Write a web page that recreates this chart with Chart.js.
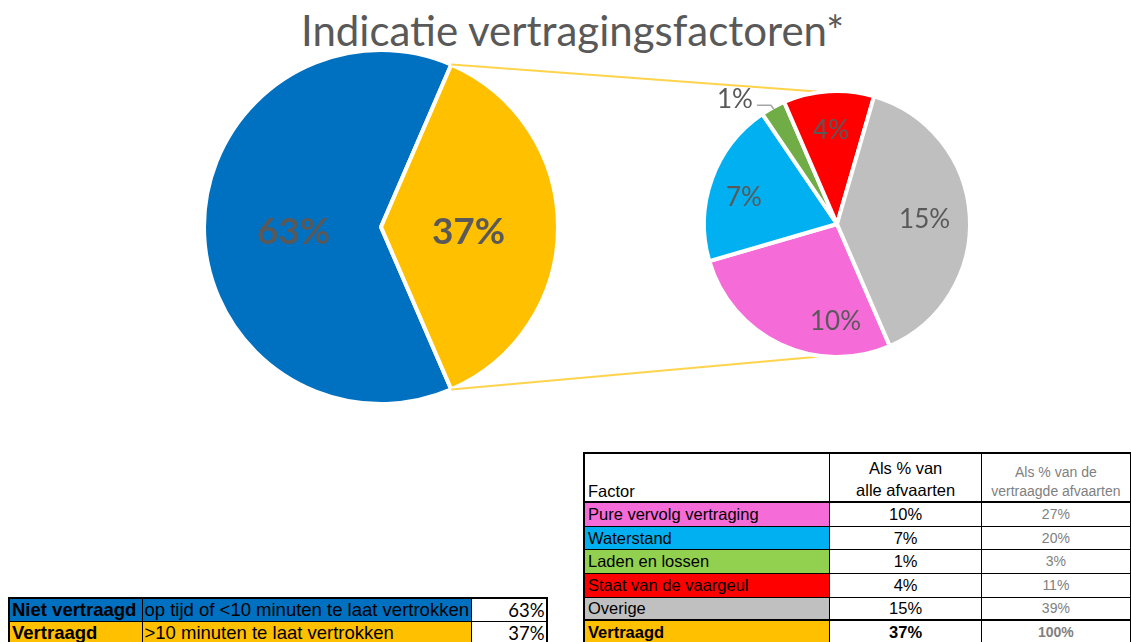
<!DOCTYPE html>
<html><head><meta charset="utf-8">
<script src="https://cdn.jsdelivr.net/npm/chart.js@4.4.0/dist/chart.umd.min.js"></script>
<style>
html,body{margin:0;padding:0;background:#fff;}
body{width:1131px;height:642px;overflow:hidden;position:relative;}
#title{position:absolute;left:0;width:1145px;top:5px;text-align:center;font-family:Lato,"Open Sans",sans-serif;font-size:42px;line-height:1.2;color:#595959;white-space:nowrap;}
canvas{position:absolute;left:0;top:0;}
table{position:absolute;border-collapse:collapse;table-layout:fixed;font-family:"Liberation Sans",Arial,sans-serif;font-size:16.5px;color:#000;}
td{padding:0 3px;overflow:hidden;white-space:nowrap;line-height:20px;}
#tRight{left:583px;top:452px;}
#tRight td{border:1px solid #000;}
#tRight tr.head td{border-bottom:2px solid #000;vertical-align:bottom;padding-bottom:0;}
#tRight tr.head td{border-top:2px solid #000;}
#tRight td.c1{border-left:2px solid #000;}
#tRight td.c2{text-align:center;}
#tRight td.c3{text-align:center;color:#808080;font-size:14px;}
#tRight tr.total td{border-top:2px solid #000;font-weight:bold;}
#tLeft{left:8px;top:597px;font-size:18.5px;}
#tLeft td{border:1px solid #000;padding:0 2px;}
#tLeft tr:first-child td{border-top:2px solid #000;}
#tLeft td.c1{border-left:2px solid #000;font-weight:bold;}
#tLeft td.c3{border-right:2px solid #000;text-align:right;background:#fff;font-family:Lato,sans-serif;font-size:18.5px;}
</style>
</head>
<body>
<div id="title"></div>
<canvas id="c1" width="1131" height="450"></canvas>
<canvas id="c2" width="1131" height="450"></canvas>
<table id="tLeft"><colgroup><col style="width:133px"><col style="width:328px"><col style="width:76px"></colgroup><tbody id="tLeftBody"></tbody></table>
<table id="tRight"><colgroup><col style="width:250px"><col style="width:154px"><col style="width:150px"></colgroup><tbody id="tRightBody"></tbody></table>
<script>
// ---- data ----
const chartTitle = 'Indicatie vertragingsfactoren*';
const mainLabels = ['Niet vertraagd', 'Vertraagd'];
const mainDescriptions = ['op tijd of <10 minuten te laat vertrokken', '>10 minuten te laat vertrokken'];
const mainValues = [63, 37];
const mainColors = ['#0070C0', '#FFC000'];

const factorLabels = ['Pure vervolg vertraging', 'Waterstand', 'Laden en lossen', 'Staat van de vaargeul', 'Overige'];
const factorAllValues = [10, 7, 1, 4, 15];        // % of all departures
const factorDelayedShares = [27, 20, 3, 11, 39];  // % of delayed departures
const factorPieColors = ['#F56CD9', '#00B0F0', '#70AD47', '#FF0000', '#BFBFBF'];
const factorTableColors = ['#F56CD9', '#00B0F0', '#92D050', '#FF0000', '#C0C0C0'];

const headerFactor = 'Factor';
const headerAll = ['Als % van', 'alle afvaarten'];
const headerDelayed = ['Als % van de', 'vertraagde afvaarten'];
const totalLabel = 'Vertraagd';
const totalDelayedShare = 100;

document.getElementById('title').textContent = chartTitle;

// ---- tables ----
const pct = v => v + '%';
const lb = document.getElementById('tLeftBody');
mainLabels.forEach((l, i) => {
  const tr = document.createElement('tr');
  tr.style.height = '23px';
  tr.style.background = mainColors[i];
  [l, mainDescriptions[i], pct(mainValues[i])].forEach((t, j) => {
    const td = document.createElement('td');
    td.className = 'c' + (j + 1);
    td.textContent = t;
    tr.appendChild(td);
  });
  lb.appendChild(tr);
});

const rb = document.getElementById('tRightBody');
function addRow(cells, cls, height, bg) {
  const tr = document.createElement('tr');
  if (cls) tr.className = cls;
  tr.style.height = height + 'px';
  cells.forEach((t, j) => {
    const td = document.createElement('td');
    td.className = 'c' + (j + 1);
    if (Array.isArray(t)) {
      t.forEach((line, k) => { if (k) td.appendChild(document.createElement('br')); td.appendChild(document.createTextNode(line)); });
    } else td.textContent = t;
    if (j === 0 && bg) td.style.background = bg;
    tr.appendChild(td);
  });
  rb.appendChild(tr);
  return tr;
}
const hr = addRow([headerFactor, headerAll, headerDelayed], 'head', 49, null);
hr.children[1].style.lineHeight = '22px';
hr.children[2].style.lineHeight = '19px';
const rowH = [24, 23, 24, 24, 23];
factorLabels.forEach((l, i) => addRow([l, pct(factorAllValues[i]), pct(factorDelayedShares[i])], '', rowH[i], factorTableColors[i]));
const totalAll = factorAllValues.reduce((a, b) => a + b, 0);
addRow([totalLabel, pct(totalAll), pct(totalDelayedShare)], 'total', 24, mainColors[1]);

// ---- label plugin ----
function labelPlugin(texts, o) {
  return {
    id: 'pieLabels',
    afterDatasetsDraw(chart) {
      const ctx = chart.ctx;
      const meta = chart.getDatasetMeta(0);
      ctx.save();
      ctx.fillStyle = '#595959';
      ctx.font = o.font;
      ctx.textBaseline = 'middle';
      meta.data.forEach((arc, i) => {
        const p = arc.getProps(['x', 'y', 'startAngle', 'endAngle', 'outerRadius'], true);
        const share = (p.endAngle - p.startAngle) / (2 * Math.PI);
        const R = p.outerRadius - o.border / 2;
        if (share < o.outsideBelow) {
          const mid = (p.startAngle + p.endAngle) / 2;
          const px = p.x + R * Math.cos(mid), py = p.y + R * Math.sin(mid);
          ctx.strokeStyle = '#A6A6A6';
          ctx.lineWidth = 1.5;
          ctx.beginPath();
          ctx.moveTo(px, py);
          ctx.lineTo(px - 3, py - 4);
          ctx.lineTo(px - 17, py - 4);
          ctx.stroke();
          ctx.textAlign = 'right';
          ctx.fillText(texts[i], px - 21, py - 10);
        } else {
          const t = (o.anglePos && o.anglePos[i] != null) ? o.anglePos[i] : 0.5;
          const rp = (o.radiusPosBy && o.radiusPosBy[i] != null) ? o.radiusPosBy[i] : o.radiusPos;
          const a = p.startAngle + (p.endAngle - p.startAngle) * t;
          const r = R * rp;
          ctx.textAlign = 'center';
          ctx.fillText(texts[i], p.x + r * Math.cos(a), p.y + r * Math.sin(a) + o.dy);
        }
      });
      ctx.restore();
    }
  };
}

const BORDER = 4;
const mainRotation = 90 + 180 * mainValues[1] / 100;

const chart1 = new Chart(document.getElementById('c1'), {
  type: 'pie',
  data: {
    labels: mainLabels,
    datasets: [{ data: mainValues, backgroundColor: mainColors, borderColor: '#ffffff', borderWidth: BORDER }]
  },
  options: {
    responsive: false, animation: false, events: [],
    rotation: mainRotation,
    radius: 175 + BORDER / 2,
    layout: { padding: { left: 31, right: 400, top: 27, bottom: 23 } },
    plugins: { legend: { display: false }, tooltip: { enabled: false }, title: { display: false } }
  },
  plugins: [labelPlugin(mainValues.map(pct), { font: 'bold 37px Lato', border: BORDER, radiusPos: 0.5, dy: 5, outsideBelow: 0 })]
});

const connectorPlugin = {
  id: 'connector',
  beforeDatasetsDraw(chart) {
    const a1 = chart1.getDatasetMeta(0).data[1].getProps(['x', 'y', 'startAngle', 'endAngle', 'outerRadius'], true);
    const a2 = chart.getDatasetMeta(0).data[0].getProps(['x', 'y', 'outerRadius'], true);
    const R1 = a1.outerRadius - BORDER / 2 + 2;
    const R2 = a2.outerRadius - BORDER / 2;
    const ctx = chart.ctx;
    ctx.save();
    ctx.strokeStyle = 'rgba(255,192,0,0.7)';
    ctx.lineWidth = 2;
    ctx.beginPath();
    ctx.moveTo(a1.x + R1 * Math.cos(a1.startAngle), a1.y + R1 * Math.sin(a1.startAngle));
    ctx.lineTo(a2.x, a2.y - R2);
    ctx.moveTo(a1.x + R1 * Math.cos(a1.endAngle), a1.y + R1 * Math.sin(a1.endAngle));
    ctx.lineTo(a2.x, a2.y + R2);
    ctx.stroke();
    ctx.restore();
  }
};

const chart2 = new Chart(document.getElementById('c2'), {
  type: 'pie',
  data: {
    labels: factorLabels,
    datasets: [{ data: factorDelayedShares, backgroundColor: factorPieColors, borderColor: '#ffffff', borderWidth: BORDER }]
  },
  options: {
    responsive: false, animation: false, events: [],
    rotation: mainRotation,
    radius: 131 + BORDER / 2,
    layout: { padding: { left: 637, right: 94, top: 24, bottom: 26 } },
    plugins: { legend: { display: false }, tooltip: { enabled: false }, title: { display: false } }
  },
  plugins: [connectorPlugin, labelPlugin(factorAllValues.map(pct), { font: '26px Lato', border: BORDER, radiusPos: 0.72, radiusPosBy: [0.74, 0.74, null, null, 0.67], dy: 1, outsideBelow: 0.05, anglePos: [0.25, 0.45] })]
});
</script>
</body></html>
